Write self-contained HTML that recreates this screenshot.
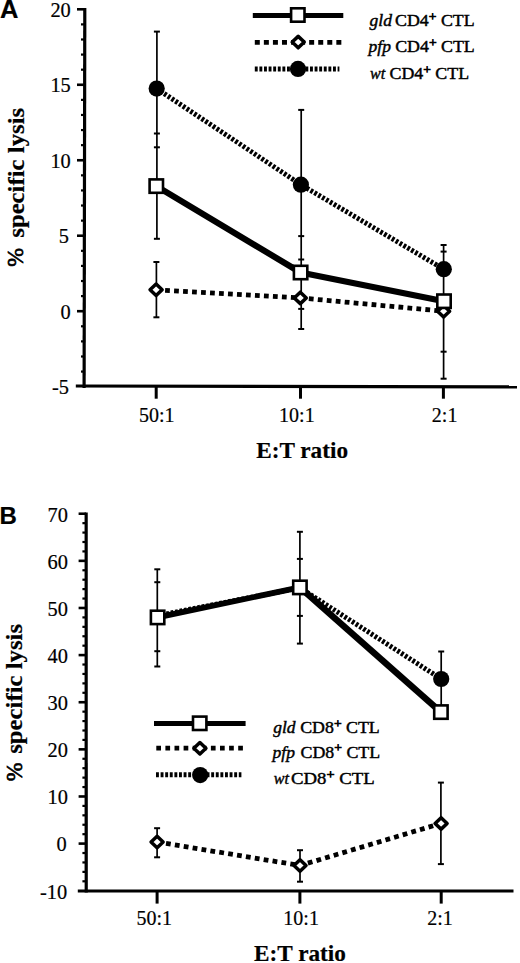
<!DOCTYPE html>
<html><head><meta charset="utf-8"><title>Specific lysis</title>
<style>
html,body{margin:0;padding:0;background:#fff;}
body{width:520px;height:963px;overflow:hidden;font-family:"Liberation Serif",serif;}
svg{display:block;}
</style></head><body>
<svg width="520" height="963" viewBox="0 0 520 963">
<rect width="520" height="963" fill="#fff"/>
<line x1="84.8" y1="8" x2="84.1" y2="388.1" stroke="#000" stroke-width="3.2" />
<line x1="77" y1="9.3" x2="84.5" y2="9.3" stroke="#000" stroke-width="2.6" />
<line x1="77" y1="84.77" x2="84.5" y2="84.77" stroke="#000" stroke-width="2.6" />
<line x1="77" y1="160.25" x2="84.5" y2="160.25" stroke="#000" stroke-width="2.6" />
<line x1="77" y1="235.72" x2="84.5" y2="235.72" stroke="#000" stroke-width="2.6" />
<line x1="77" y1="311.2" x2="84.5" y2="311.2" stroke="#000" stroke-width="2.6" />
<line x1="81" y1="371.58" x2="84.5" y2="371.58" stroke="#000" stroke-width="2.2" />
<line x1="81" y1="356.49" x2="84.5" y2="356.49" stroke="#000" stroke-width="2.2" />
<line x1="81" y1="341.39" x2="84.5" y2="341.39" stroke="#000" stroke-width="2.2" />
<line x1="81" y1="326.3" x2="84.5" y2="326.3" stroke="#000" stroke-width="2.2" />
<line x1="81" y1="296.1" x2="84.5" y2="296.1" stroke="#000" stroke-width="2.2" />
<line x1="81" y1="281.01" x2="84.5" y2="281.01" stroke="#000" stroke-width="2.2" />
<line x1="81" y1="265.91" x2="84.5" y2="265.91" stroke="#000" stroke-width="2.2" />
<line x1="81" y1="250.82" x2="84.5" y2="250.82" stroke="#000" stroke-width="2.2" />
<line x1="81" y1="220.63" x2="84.5" y2="220.63" stroke="#000" stroke-width="2.2" />
<line x1="81" y1="205.53" x2="84.5" y2="205.53" stroke="#000" stroke-width="2.2" />
<line x1="81" y1="190.44" x2="84.5" y2="190.44" stroke="#000" stroke-width="2.2" />
<line x1="81" y1="175.34" x2="84.5" y2="175.34" stroke="#000" stroke-width="2.2" />
<line x1="81" y1="145.15" x2="84.5" y2="145.15" stroke="#000" stroke-width="2.2" />
<line x1="81" y1="130.06" x2="84.5" y2="130.06" stroke="#000" stroke-width="2.2" />
<line x1="81" y1="114.96" x2="84.5" y2="114.96" stroke="#000" stroke-width="2.2" />
<line x1="81" y1="99.87" x2="84.5" y2="99.87" stroke="#000" stroke-width="2.2" />
<line x1="81" y1="69.68" x2="84.5" y2="69.68" stroke="#000" stroke-width="2.2" />
<line x1="81" y1="54.58" x2="84.5" y2="54.58" stroke="#000" stroke-width="2.2" />
<line x1="81" y1="39.49" x2="84.5" y2="39.49" stroke="#000" stroke-width="2.2" />
<line x1="81" y1="24.39" x2="84.5" y2="24.39" stroke="#000" stroke-width="2.2" />
<line x1="75.8" y1="386" x2="517" y2="386.9" stroke="#000" stroke-width="3.2" />
<line x1="156.2" y1="386.2" x2="156.2" y2="398.7" stroke="#000" stroke-width="3" />
<line x1="300.5" y1="386.7" x2="300.5" y2="398.7" stroke="#000" stroke-width="3" />
<line x1="443.4" y1="386.9" x2="443.4" y2="398.7" stroke="#000" stroke-width="3" />
<text x="0" y="0" font-family="'Liberation Serif', serif" font-size="20.2" font-weight="normal" font-style="normal" text-anchor="end" stroke="#000" stroke-width="0.2" transform="translate(70.8 17) scale(1.01 1)">20</text>
<text x="0" y="0" font-family="'Liberation Serif', serif" font-size="20.2" font-weight="normal" font-style="normal" text-anchor="end" stroke="#000" stroke-width="0.2" transform="translate(70.8 92.47) scale(1.01 1)">15</text>
<text x="0" y="0" font-family="'Liberation Serif', serif" font-size="20.2" font-weight="normal" font-style="normal" text-anchor="end" stroke="#000" stroke-width="0.2" transform="translate(70.8 167.95) scale(1.01 1)">10</text>
<text x="0" y="0" font-family="'Liberation Serif', serif" font-size="20.2" font-weight="normal" font-style="normal" text-anchor="end" stroke="#000" stroke-width="0.2" transform="translate(69 243.42) scale(1.01 1)">5</text>
<text x="0" y="0" font-family="'Liberation Serif', serif" font-size="20.2" font-weight="normal" font-style="normal" text-anchor="end" stroke="#000" stroke-width="0.2" transform="translate(70.8 318.9) scale(1.01 1)">0</text>
<text x="0" y="0" font-family="'Liberation Serif', serif" font-size="20.2" font-weight="normal" font-style="normal" text-anchor="end" stroke="#000" stroke-width="0.2" transform="translate(69 394.38) scale(1.01 1)">-5</text>
<text x="0" y="0" font-family="'Liberation Serif', serif" font-size="20" font-weight="normal" font-style="normal" text-anchor="middle" stroke="#000" stroke-width="0.2" transform="translate(156.75 421.5) scale(1.0 1)">50:1</text>
<text x="0" y="0" font-family="'Liberation Serif', serif" font-size="20" font-weight="normal" font-style="normal" text-anchor="middle" stroke="#000" stroke-width="0.2" transform="translate(296.9 421.5) scale(1.0 1)">10:1</text>
<text x="0" y="0" font-family="'Liberation Serif', serif" font-size="20" font-weight="normal" font-style="normal" text-anchor="middle" stroke="#000" stroke-width="0.2" transform="translate(444.6 421.5) scale(1.0 1)">2:1</text>
<text x="0" y="0" font-family="'Liberation Serif', serif" font-size="22.8" font-weight="bold" font-style="normal" text-anchor="middle" stroke="#000" stroke-width="0.2" transform="translate(302.1 458.0) scale(1.02 1)">E:T ratio</text>
<text x="0" y="0" font-family="'Liberation Serif', serif" font-size="22.2" font-weight="bold" font-style="normal" text-anchor="middle" stroke="#000" stroke-width="0.2" transform="translate(23.6 172.8) rotate(-90) scale(1.115 1)">specific lysis</text>
<text x="0" y="0" font-family="'Liberation Serif', serif" font-size="23.7" font-weight="normal" font-style="normal" text-anchor="middle" stroke="#000" stroke-width="0.7" transform="translate(23.2 257.3) rotate(-90) scale(0.95 1)">%</text>
<text x="0" y="18.1" font-family="'Liberation Sans', sans-serif" font-size="25.5" font-weight="bold" font-style="normal" text-anchor="start" stroke="#000" stroke-width="0.2" >A</text>
<line x1="156.9" y1="31.6" x2="156.9" y2="238.8" stroke="#000" stroke-width="1.7" /><line x1="153.9" y1="31.6" x2="159.9" y2="31.6" stroke="#000" stroke-width="2" /><line x1="153.9" y1="133.5" x2="159.9" y2="133.5" stroke="#000" stroke-width="2" /><line x1="153.9" y1="147.3" x2="159.9" y2="147.3" stroke="#000" stroke-width="2" /><line x1="153.9" y1="238.8" x2="159.9" y2="238.8" stroke="#000" stroke-width="2" />
<line x1="156.4" y1="262" x2="156.4" y2="317.3" stroke="#000" stroke-width="1.7" /><line x1="153.4" y1="262" x2="159.4" y2="262" stroke="#000" stroke-width="2" /><line x1="153.4" y1="317.3" x2="159.4" y2="317.3" stroke="#000" stroke-width="2" />
<line x1="301.2" y1="109.9" x2="301.2" y2="329" stroke="#000" stroke-width="1.7" /><line x1="298.2" y1="109.9" x2="304.2" y2="109.9" stroke="#000" stroke-width="2" /><line x1="298.2" y1="236.1" x2="304.2" y2="236.1" stroke="#000" stroke-width="2" /><line x1="298.2" y1="259.5" x2="304.2" y2="259.5" stroke="#000" stroke-width="2" /><line x1="298.2" y1="308.9" x2="304.2" y2="308.9" stroke="#000" stroke-width="2" /><line x1="298.2" y1="329" x2="304.2" y2="329" stroke="#000" stroke-width="2" />
<line x1="443.6" y1="245" x2="443.6" y2="378.7" stroke="#000" stroke-width="1.7" /><line x1="440.6" y1="245" x2="446.6" y2="245" stroke="#000" stroke-width="2" /><line x1="440.6" y1="251.6" x2="446.6" y2="251.6" stroke="#000" stroke-width="2" /><line x1="440.6" y1="351.7" x2="446.6" y2="351.7" stroke="#000" stroke-width="2" /><line x1="440.6" y1="378.7" x2="446.6" y2="378.7" stroke="#000" stroke-width="2" />
<path d="M156.1 289.8L300.3 297.9L443.6 311.2" stroke="#000" stroke-width="4.8" fill="none" stroke-dasharray="4.8 4.2"/>
<path d="M156.7 88.6L300.9 184.7L443.8 269.2" stroke="#000" stroke-width="5" fill="none" stroke-dasharray="2.75 1.75"/>
<path d="M156.3 186.1L300.6 272.5L444 301.2" stroke="#000" stroke-width="6.2" fill="none" stroke-linejoin="round"/>
<path d="M156.1 284.07L162.13 289.8L156.1 295.53L150.07 289.8Z" fill="#fff" stroke="#000" stroke-width="3.5" stroke-linejoin="round"/>
<path d="M300.3 292.17L306.33 297.9L300.3 303.63L294.27 297.9Z" fill="#fff" stroke="#000" stroke-width="3.5" stroke-linejoin="round"/>
<path d="M443.6 305.47L449.63 311.2L443.6 316.93L437.57 311.2Z" fill="#fff" stroke="#000" stroke-width="3.5" stroke-linejoin="round"/>
<rect x="149.6" y="179.4" width="13.4" height="13.4" fill="#fff" stroke="#000" stroke-width="2.6"/>
<rect x="293.9" y="265.8" width="13.4" height="13.4" fill="#fff" stroke="#000" stroke-width="2.6"/>
<rect x="437.3" y="294.5" width="13.4" height="13.4" fill="#fff" stroke="#000" stroke-width="2.6"/>
<circle cx="156.7" cy="88.6" r="8.1" fill="#000"/>
<circle cx="300.9" cy="184.7" r="8.1" fill="#000"/>
<circle cx="443.8" cy="269.2" r="8.1" fill="#000"/>
<line x1="252.8" y1="15.4" x2="343.3" y2="15.4" stroke="#000" stroke-width="5" />
<rect x="291.1" y="8.3" width="13.4" height="13.4" fill="#fff" stroke="#000" stroke-width="2.6"/>
<line x1="254.8" y1="42.4" x2="341.4" y2="42.4" stroke="#000" stroke-width="4.7" stroke-dasharray="5 4.06"/>
<path d="M298.2 36.37L304.23 42.1L298.2 47.83L292.17 42.1Z" fill="#fff" stroke="#000" stroke-width="3.5" stroke-linejoin="round"/>
<line x1="254.8" y1="69" x2="339.4" y2="69" stroke="#000" stroke-width="5" stroke-dasharray="2.9 1.7"/>
<circle cx="298" cy="68.9" r="8.1" fill="#000"/>
<text transform="translate(369.6 26.3) scale(1 1)" font-family="'Liberation Serif', serif" font-size="17.5" font-style="italic" stroke="#000" stroke-width="0.45">gld</text><text transform="translate(395.1 26.3) scale(1.02 1)" font-family="'Liberation Serif', serif" font-size="17.5" stroke="#000" stroke-width="0.45">CD4<tspan font-size="13.4" dy="-5.4" stroke-width="0.7">+</tspan><tspan dy="5.4"> CTL</tspan></text>
<text transform="translate(368.6 52.1) scale(1 1)" font-family="'Liberation Serif', serif" font-size="17.5" font-style="italic" stroke="#000" stroke-width="0.45">pfp</text><text transform="translate(395.2 52.1) scale(1.02 1)" font-family="'Liberation Serif', serif" font-size="17.5" stroke="#000" stroke-width="0.45">CD4<tspan font-size="13.4" dy="-5.4" stroke-width="0.7">+</tspan><tspan dy="5.4"> CTL</tspan></text>
<text transform="translate(370 79.1) scale(0.92 1)" font-family="'Liberation Serif', serif" font-size="17.5" font-style="italic" stroke="#000" stroke-width="0.45">wt</text><text transform="translate(389.5 79.1) scale(1.02 1)" font-family="'Liberation Serif', serif" font-size="17.5" stroke="#000" stroke-width="0.45">CD4<tspan font-size="13.4" dy="-5.4" stroke-width="0.7">+</tspan><tspan dy="5.4"> CTL</tspan></text>
<line x1="86.15" y1="512.5" x2="86.2" y2="892.4" stroke="#000" stroke-width="3.2" />
<line x1="78.6" y1="843.6" x2="86" y2="843.6" stroke="#000" stroke-width="2.6" />
<line x1="78.6" y1="796.48" x2="86" y2="796.48" stroke="#000" stroke-width="2.6" />
<line x1="78.6" y1="749.35" x2="86" y2="749.35" stroke="#000" stroke-width="2.6" />
<line x1="78.6" y1="702.23" x2="86" y2="702.23" stroke="#000" stroke-width="2.6" />
<line x1="78.6" y1="655.1" x2="86" y2="655.1" stroke="#000" stroke-width="2.6" />
<line x1="78.6" y1="607.98" x2="86" y2="607.98" stroke="#000" stroke-width="2.6" />
<line x1="78.6" y1="560.85" x2="86" y2="560.85" stroke="#000" stroke-width="2.6" />
<line x1="78.6" y1="513.73" x2="86" y2="513.73" stroke="#000" stroke-width="2.6" />
<line x1="82.4" y1="881.3" x2="86" y2="881.3" stroke="#000" stroke-width="2.2" />
<line x1="82.4" y1="871.88" x2="86" y2="871.88" stroke="#000" stroke-width="2.2" />
<line x1="82.4" y1="862.45" x2="86" y2="862.45" stroke="#000" stroke-width="2.2" />
<line x1="82.4" y1="853.02" x2="86" y2="853.02" stroke="#000" stroke-width="2.2" />
<line x1="82.4" y1="834.18" x2="86" y2="834.18" stroke="#000" stroke-width="2.2" />
<line x1="82.4" y1="824.75" x2="86" y2="824.75" stroke="#000" stroke-width="2.2" />
<line x1="82.4" y1="815.33" x2="86" y2="815.33" stroke="#000" stroke-width="2.2" />
<line x1="82.4" y1="805.9" x2="86" y2="805.9" stroke="#000" stroke-width="2.2" />
<line x1="82.4" y1="787.05" x2="86" y2="787.05" stroke="#000" stroke-width="2.2" />
<line x1="82.4" y1="777.62" x2="86" y2="777.62" stroke="#000" stroke-width="2.2" />
<line x1="82.4" y1="768.2" x2="86" y2="768.2" stroke="#000" stroke-width="2.2" />
<line x1="82.4" y1="758.77" x2="86" y2="758.77" stroke="#000" stroke-width="2.2" />
<line x1="82.4" y1="739.92" x2="86" y2="739.92" stroke="#000" stroke-width="2.2" />
<line x1="82.4" y1="730.5" x2="86" y2="730.5" stroke="#000" stroke-width="2.2" />
<line x1="82.4" y1="721.08" x2="86" y2="721.08" stroke="#000" stroke-width="2.2" />
<line x1="82.4" y1="711.65" x2="86" y2="711.65" stroke="#000" stroke-width="2.2" />
<line x1="82.4" y1="692.8" x2="86" y2="692.8" stroke="#000" stroke-width="2.2" />
<line x1="82.4" y1="683.38" x2="86" y2="683.38" stroke="#000" stroke-width="2.2" />
<line x1="82.4" y1="673.95" x2="86" y2="673.95" stroke="#000" stroke-width="2.2" />
<line x1="82.4" y1="664.52" x2="86" y2="664.52" stroke="#000" stroke-width="2.2" />
<line x1="82.4" y1="645.67" x2="86" y2="645.67" stroke="#000" stroke-width="2.2" />
<line x1="82.4" y1="636.25" x2="86" y2="636.25" stroke="#000" stroke-width="2.2" />
<line x1="82.4" y1="626.83" x2="86" y2="626.83" stroke="#000" stroke-width="2.2" />
<line x1="82.4" y1="617.4" x2="86" y2="617.4" stroke="#000" stroke-width="2.2" />
<line x1="82.4" y1="598.55" x2="86" y2="598.55" stroke="#000" stroke-width="2.2" />
<line x1="82.4" y1="589.12" x2="86" y2="589.12" stroke="#000" stroke-width="2.2" />
<line x1="82.4" y1="579.7" x2="86" y2="579.7" stroke="#000" stroke-width="2.2" />
<line x1="82.4" y1="570.27" x2="86" y2="570.27" stroke="#000" stroke-width="2.2" />
<line x1="82.4" y1="551.42" x2="86" y2="551.42" stroke="#000" stroke-width="2.2" />
<line x1="82.4" y1="542" x2="86" y2="542" stroke="#000" stroke-width="2.2" />
<line x1="82.4" y1="532.58" x2="86" y2="532.58" stroke="#000" stroke-width="2.2" />
<line x1="82.4" y1="523.15" x2="86" y2="523.15" stroke="#000" stroke-width="2.2" />
<line x1="77.8" y1="891" x2="513.5" y2="891" stroke="#000" stroke-width="3.2" />
<line x1="157.1" y1="891" x2="157.1" y2="903.6" stroke="#000" stroke-width="3" />
<line x1="299.9" y1="891" x2="299.9" y2="903.6" stroke="#000" stroke-width="3" />
<line x1="441.2" y1="891" x2="441.2" y2="903.6" stroke="#000" stroke-width="3" />
<text x="0" y="0" font-family="'Liberation Serif', serif" font-size="20.2" font-weight="normal" font-style="normal" text-anchor="end" stroke="#000" stroke-width="0.2" transform="translate(67.2 898.52) scale(1.01 1)">-10</text>
<text x="0" y="0" font-family="'Liberation Serif', serif" font-size="20.2" font-weight="normal" font-style="normal" text-anchor="end" stroke="#000" stroke-width="0.2" transform="translate(66.6 851.4) scale(1.01 1)">0</text>
<text x="0" y="0" font-family="'Liberation Serif', serif" font-size="20.2" font-weight="normal" font-style="normal" text-anchor="end" stroke="#000" stroke-width="0.2" transform="translate(68 804.27) scale(1.01 1)">10</text>
<text x="0" y="0" font-family="'Liberation Serif', serif" font-size="20.2" font-weight="normal" font-style="normal" text-anchor="end" stroke="#000" stroke-width="0.2" transform="translate(68 757.15) scale(1.01 1)">20</text>
<text x="0" y="0" font-family="'Liberation Serif', serif" font-size="20.2" font-weight="normal" font-style="normal" text-anchor="end" stroke="#000" stroke-width="0.2" transform="translate(68 710.02) scale(1.01 1)">30</text>
<text x="0" y="0" font-family="'Liberation Serif', serif" font-size="20.2" font-weight="normal" font-style="normal" text-anchor="end" stroke="#000" stroke-width="0.2" transform="translate(68 662.9) scale(1.01 1)">40</text>
<text x="0" y="0" font-family="'Liberation Serif', serif" font-size="20.2" font-weight="normal" font-style="normal" text-anchor="end" stroke="#000" stroke-width="0.2" transform="translate(68 615.77) scale(1.01 1)">50</text>
<text x="0" y="0" font-family="'Liberation Serif', serif" font-size="20.2" font-weight="normal" font-style="normal" text-anchor="end" stroke="#000" stroke-width="0.2" transform="translate(68 568.65) scale(1.01 1)">60</text>
<text x="0" y="0" font-family="'Liberation Serif', serif" font-size="20.2" font-weight="normal" font-style="normal" text-anchor="end" stroke="#000" stroke-width="0.2" transform="translate(68 521.52) scale(1.01 1)">70</text>
<text x="0" y="0" font-family="'Liberation Serif', serif" font-size="20" font-weight="normal" font-style="normal" text-anchor="middle" stroke="#000" stroke-width="0.2" transform="translate(154.25 924.6) scale(1.0 1)">50:1</text>
<text x="0" y="0" font-family="'Liberation Serif', serif" font-size="20" font-weight="normal" font-style="normal" text-anchor="middle" stroke="#000" stroke-width="0.2" transform="translate(301.1 924.6) scale(1.0 1)">10:1</text>
<text x="0" y="0" font-family="'Liberation Serif', serif" font-size="20" font-weight="normal" font-style="normal" text-anchor="middle" stroke="#000" stroke-width="0.2" transform="translate(440 924.6) scale(1.0 1)">2:1</text>
<text x="0" y="0" font-family="'Liberation Serif', serif" font-size="22.8" font-weight="bold" font-style="normal" text-anchor="middle" stroke="#000" stroke-width="0.2" transform="translate(300.0 960.7) scale(1.02 1)">E:T ratio</text>
<text x="0" y="0" font-family="'Liberation Serif', serif" font-size="22.2" font-weight="bold" font-style="normal" text-anchor="middle" stroke="#000" stroke-width="0.2" transform="translate(22.4 688.85) rotate(-90) scale(1.115 1)">specific lysis</text>
<text x="0" y="0" font-family="'Liberation Serif', serif" font-size="23.7" font-weight="normal" font-style="normal" text-anchor="middle" stroke="#000" stroke-width="0.7" transform="translate(22.0 771.9) rotate(-90) scale(0.95 1)">%</text>
<text x="-0.6" y="524.1" font-family="'Liberation Sans', sans-serif" font-size="24" font-weight="bold" font-style="normal" text-anchor="start" stroke="#000" stroke-width="0.2" >B</text>
<line x1="157.3" y1="569.3" x2="157.3" y2="666.5" stroke="#000" stroke-width="1.7" /><line x1="154.3" y1="569.3" x2="160.3" y2="569.3" stroke="#000" stroke-width="2" /><line x1="154.3" y1="582.2" x2="160.3" y2="582.2" stroke="#000" stroke-width="2" /><line x1="154.3" y1="651.2" x2="160.3" y2="651.2" stroke="#000" stroke-width="2" /><line x1="154.3" y1="666.5" x2="160.3" y2="666.5" stroke="#000" stroke-width="2" />
<line x1="157.1" y1="828.2" x2="157.1" y2="857.3" stroke="#000" stroke-width="1.7" /><line x1="154.1" y1="828.2" x2="160.1" y2="828.2" stroke="#000" stroke-width="2" /><line x1="154.1" y1="857.3" x2="160.1" y2="857.3" stroke="#000" stroke-width="2" />
<line x1="299.9" y1="531.8" x2="299.9" y2="643.6" stroke="#000" stroke-width="1.7" /><line x1="296.9" y1="531.8" x2="302.9" y2="531.8" stroke="#000" stroke-width="2" /><line x1="296.9" y1="558.9" x2="302.9" y2="558.9" stroke="#000" stroke-width="2" /><line x1="296.9" y1="615.9" x2="302.9" y2="615.9" stroke="#000" stroke-width="2" /><line x1="296.9" y1="643.6" x2="302.9" y2="643.6" stroke="#000" stroke-width="2" />
<line x1="300" y1="850.2" x2="300" y2="881.7" stroke="#000" stroke-width="1.7" /><line x1="297" y1="850.2" x2="303" y2="850.2" stroke="#000" stroke-width="2" /><line x1="297" y1="881.7" x2="303" y2="881.7" stroke="#000" stroke-width="2" />
<line x1="441.2" y1="651.5" x2="441.2" y2="706" stroke="#000" stroke-width="1.7" /><line x1="438.2" y1="651.5" x2="444.2" y2="651.5" stroke="#000" stroke-width="2" />
<line x1="440.9" y1="782.6" x2="440.9" y2="864.1" stroke="#000" stroke-width="1.7" /><line x1="437.9" y1="782.6" x2="443.9" y2="782.6" stroke="#000" stroke-width="2" /><line x1="437.9" y1="864.1" x2="443.9" y2="864.1" stroke="#000" stroke-width="2" />
<path d="M157.1 842L300 865.5L441.1 823.4" stroke="#000" stroke-width="4.8" fill="none" stroke-dasharray="4.8 4.2"/>
<path d="M157.6 615.6L299.9 587.8L441.2 679" stroke="#000" stroke-width="5" fill="none" stroke-dasharray="2.75 1.75"/>
<path d="M157.6 617.4L299.9 587.4" stroke="#000" stroke-width="5.8" fill="none" stroke-linejoin="round"/>
<path d="M299.9 587.4L440.9 712.1" stroke="#000" stroke-width="6.6" fill="none" stroke-linejoin="round"/>
<path d="M157.1 836.27L163.13 842L157.1 847.73L151.07 842Z" fill="#fff" stroke="#000" stroke-width="3.5" stroke-linejoin="round"/>
<path d="M300 859.77L306.03 865.5L300 871.23L293.97 865.5Z" fill="#fff" stroke="#000" stroke-width="3.5" stroke-linejoin="round"/>
<path d="M441.1 817.67L447.13 823.4L441.1 829.13L435.07 823.4Z" fill="#fff" stroke="#000" stroke-width="3.5" stroke-linejoin="round"/>
<circle cx="441.2" cy="679" r="8.1" fill="#000"/>
<rect x="150.9" y="610.7" width="13.4" height="13.4" fill="#fff" stroke="#000" stroke-width="2.6"/>
<rect x="293.2" y="580.7" width="13.4" height="13.4" fill="#fff" stroke="#000" stroke-width="2.6"/>
<rect x="434.2" y="705.4" width="13.4" height="13.4" fill="#fff" stroke="#000" stroke-width="2.6"/>
<line x1="154" y1="723.6" x2="245.6" y2="723.6" stroke="#000" stroke-width="5" />
<rect x="193" y="716.6" width="13.4" height="13.4" fill="#fff" stroke="#000" stroke-width="2.6"/>
<line x1="156.3" y1="748.1" x2="243.2" y2="748.1" stroke="#000" stroke-width="4.7" stroke-dasharray="4.7 4.4"/>
<path d="M199.9 742.47L205.93 748.2L199.9 753.93L193.87 748.2Z" fill="#fff" stroke="#000" stroke-width="3.5" stroke-linejoin="round"/>
<line x1="156" y1="774.8" x2="241.4" y2="774.8" stroke="#000" stroke-width="5" stroke-dasharray="2.9 1.7"/>
<circle cx="200.2" cy="775.1" r="8.1" fill="#000"/>
<text transform="translate(273.2 733.4) scale(1 1)" font-family="'Liberation Serif', serif" font-size="17.5" font-style="italic" stroke="#000" stroke-width="0.45">gld</text><text transform="translate(300.2 733.4) scale(1.02 1)" font-family="'Liberation Serif', serif" font-size="17.5" stroke="#000" stroke-width="0.45">CD8<tspan font-size="13.4" dy="-5.4" stroke-width="0.7">+</tspan><tspan dy="5.4"> CTL</tspan></text>
<text transform="translate(272.6 757.7) scale(1 1)" font-family="'Liberation Serif', serif" font-size="17.5" font-style="italic" stroke="#000" stroke-width="0.45">pfp</text><text transform="translate(300.6 757.7) scale(1.02 1)" font-family="'Liberation Serif', serif" font-size="17.5" stroke="#000" stroke-width="0.45">CD8<tspan font-size="13.4" dy="-5.4" stroke-width="0.7">+</tspan><tspan dy="5.4"> CTL</tspan></text>
<text transform="translate(273.8 784.4) scale(0.92 1)" font-family="'Liberation Serif', serif" font-size="17.5" font-style="italic" stroke="#000" stroke-width="0.45">wt</text><text transform="translate(291.1 784.4) scale(1.07 1)" font-family="'Liberation Serif', serif" font-size="17.5" stroke="#000" stroke-width="0.45">CD8<tspan font-size="13.4" dy="-5.4" stroke-width="0.7">+</tspan><tspan dy="5.4"> CTL</tspan></text>
</svg>
</body></html>
